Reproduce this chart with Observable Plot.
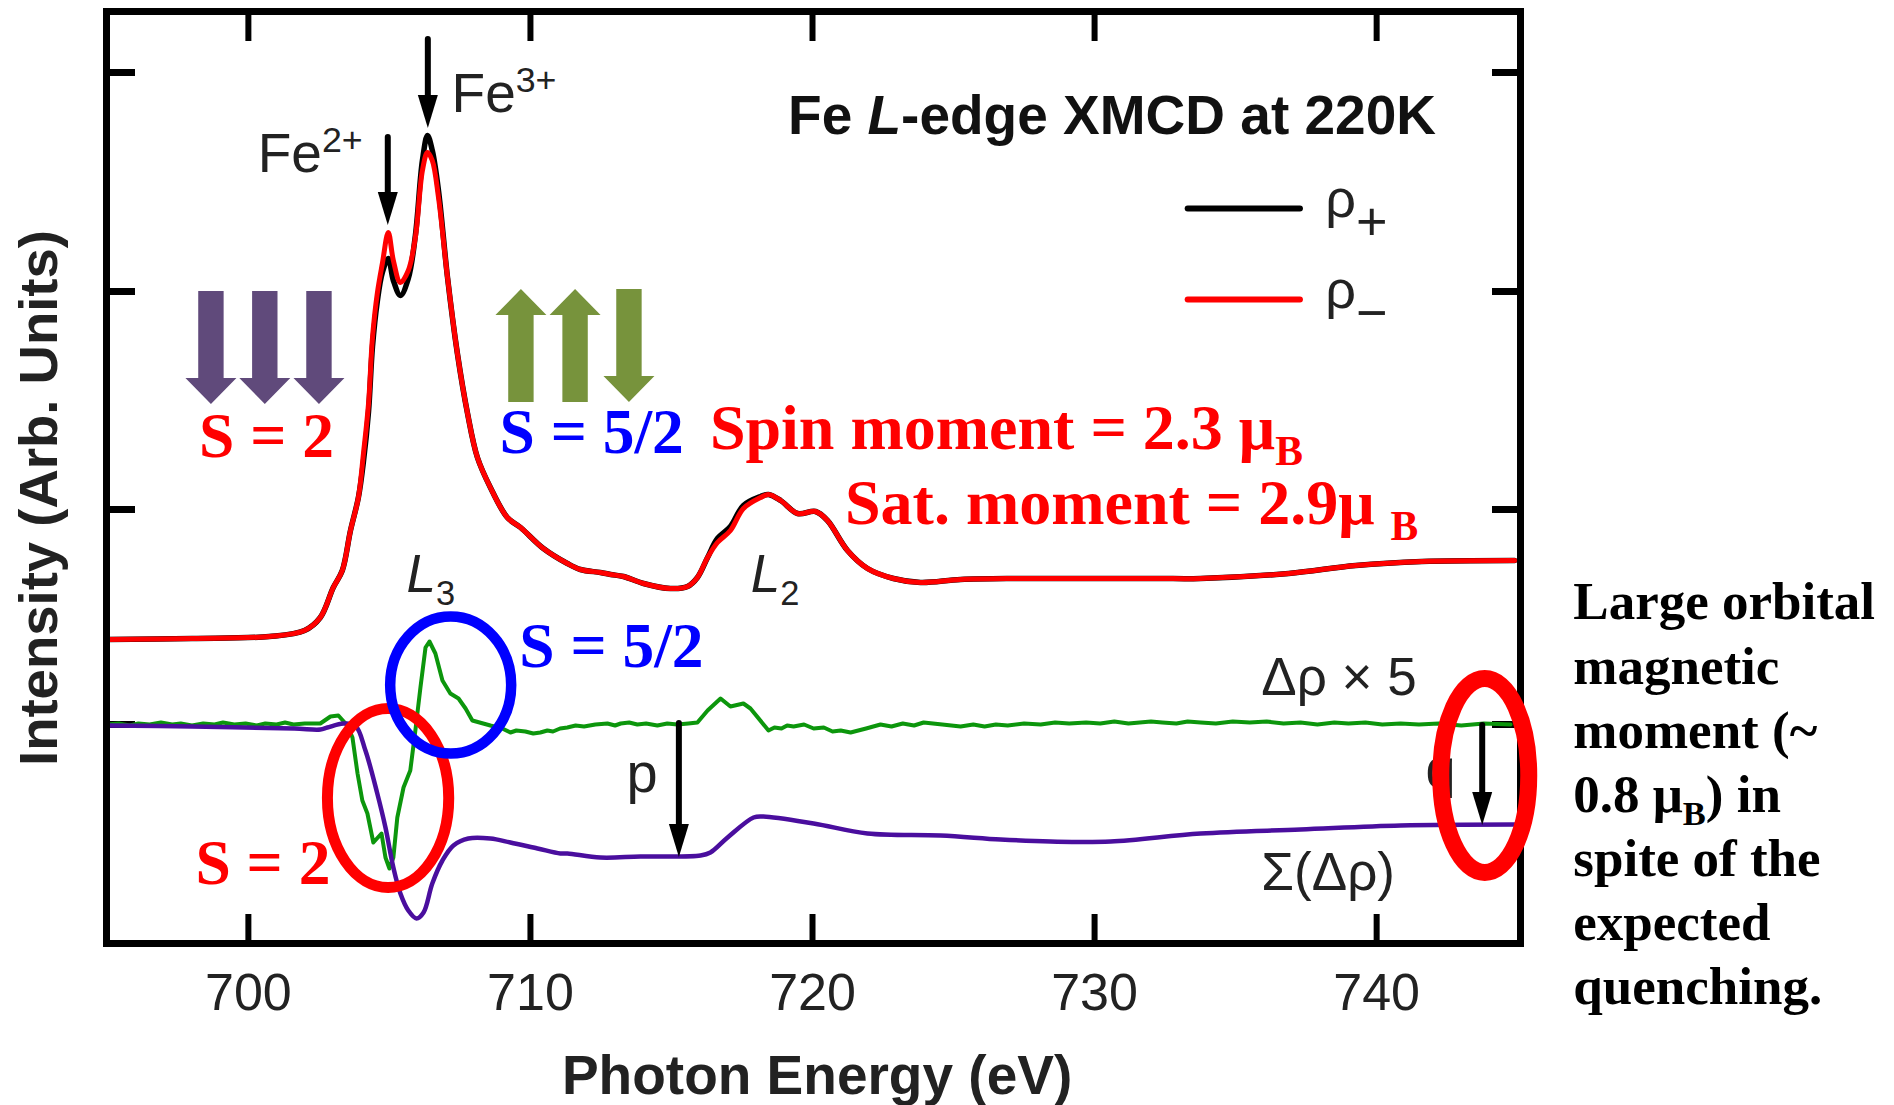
<!DOCTYPE html>
<html><head><meta charset="utf-8">
<style>html,body{margin:0;padding:0;background:#fff}svg{display:block}</style>
<script src="https://cdn.jsdelivr.net/npm/d3@7"></script>
<script src="https://cdn.jsdelivr.net/npm/@observablehq/plot@0.6"></script>
</head><body><div id="chart"></div>
<script>
const xTicks = [700, 710, 720, 730, 740];
const yTicks = [222, 437, 655, 874];

const rhoEnergy = [695,698.01,700.74,701.99,702.55,703.01,703.33,703.62,703.9,704.08,704.26,704.4,704.57,704.75,704.96,705.14,705.39,705.67,705.92,706.17,706.35,706.52,706.74,707.06,707.41,707.77,708.12,708.58,709.18,709.65,710.46,711.31,711.77,712.48,712.84,713.3,714.01,714.96,715.57,715.92,716.28,716.63,717.09,717.55,718.16,718.44,718.87,719.47,720.11,720.53,721.24,721.95,722.87,723.83,725.25,727.27,732.16,733.76,736.88,739.26,741.6,744.89];
const rhoMinus = [307,308,310,316,329,359,376,416,449,493,543,609,653,683,714,686,664,676,709,776,794,786,749,669,593,533,489,459,429,419,398,383,377,374,372,370,363,358,360,369,389,404,416,438,449,452,446,433,435,426,396,378,368,364,367,368,368,368,373,381,385,386];
const rhoPlus  = [307,308,310,316,329,359,376,416,449,485,535,600,645,674,688,666,651,668,711,786,811,796,756,669,593,533,489,459,429,419,398,383,377,374,372,370,363,358,360,369,389,408,420,441,450,452,446,433,435,426,396,378,368,364,367,368,368,368,373,381,385,386];

const deltaEnergy = [695,695.4,695.8,696.1,696.5,696.9,697.3,697.6,698,698.4,698.8,699.1,699.5,699.9,700.3,700.6,701,701.3,701.6,702,702.55,702.91,703.19,703.51,703.69,703.87,704.04,704.22,704.43,704.72,704.86,705,705.14,705.28,705.5,705.74,705.92,706.1,706.28,706.42,706.63,706.88,707.16,707.45,707.7,707.94,708.58,709.0,709.29,709.5,709.82,710.1,710.35,710.6,710.8,711.05,711.31,711.6,711.9,712.3,712.73,713,713.2,713.5,713.79,714.1,714.5,714.85,715.21,715.6,715.92,716.28,716.74,717.09,717.55,717.8,718.44,718.65,718.9,719.1,719.33,719.7,720.04,720.4,720.71,721,721.35,721.9,722.41,722.8,723.2,723.6,723.94,724.6,725.25,725.7,726.1,726.5,726.92,727.5,728.09,728.6,729.1,729.7,730.2,730.7,731.2,731.6,732,732.4,732.9,733.3,733.76,734.3,734.9,735.5,736.1,736.7,737.3,737.9,738.5,739,739.6,740.2,740.85,741.5,742.2,743,743.8,744.75];
const deltaValues = [222,223,221,223,222,224,222,223,221,223,222,224,222,223,221,223,222,224,222,223,223,230,231,221,209,173,146,133,104,113,89,78,89,129,159,176,216,259,299,305,293,266,253,248,238,226,221,218,214,216,215,213,214,216,215,218,219,221,220,222,223,221,223,224,222,223,221,223,222,223,224,236,248,240,243,238,216,219,218,221,220,222,218,219,215,216,214,218,222,220,223,221,224,222,220,222,220,222,221,223,222,224,223,224,223,225,223,224,225,224,223,225,224,223,225,224,225,223,224,222,224,223,224,222,223,222,223,221,223,222];

const sumEnergy = [695,698.01,701.63,702.55,702.8,703.37,703.79,704.15,704.57,704.86,705.14,705.39,705.67,705.96,706.21,706.52,706.88,707.27,707.8,708.58,709.29,710.25,711.06,711.31,712.48,713.9,716.03,716.38,716.99,717.91,718.26,720.04,721.95,724.54,726.67,728.44,730.57,733.76,737.3,740.85,744.89];
const sumValues = [221,220,218,217,219,223,221,196,153,119,79,53,36,28,34,63,86,101,108,108,104,98,93,93,89,90,91,94,109,129,130,123,113,111,107,105,105,113,117,121,122];

const legendEnergy = [733.3, 737.28];
const legendPlus = [738, 738];
const legendMinus = [647, 647];

const spinDownEnergy = [698.69, 700.6, 702.52];
const ferriUpEnergy = [709.68, 711.6];
const ferriDownEnergy = [713.51];
const thinArrows = [[706.38,907,818],[704.96,809,721],[715.28,223,89],[743.76,221,121]];
const ellipses = [[704.97,148,2.15,89.5,"#ff0000",11],[707.19,261,2.145,68.5,"#0000ff",10.5],[743.85,170.5,1.56,97,"#ff0000",17]];

const sans = "'Liberation Sans',Arial,sans-serif", serif = "'Liberation Serif','Times New Roman',serif";
const notes = [
 {x:719.15,y:812,f:sans,s:55,w:"bold",c:"#111",p:[["Fe "],["L","i"],["-edge XMCD at 220K"]]},
 {x:707.22,y:834,f:sans,s:55,c:"#222",p:[["Fe"],["3+","sup"]]},
 {x:700.35,y:774,f:sans,s:55,c:"#222",p:[["Fe"],["2+","sup"]]},
 {x:705.62,y:354,f:sans,s:53,c:"#222",p:[["L","i"],["3","sub"]]},
 {x:717.83,y:354,f:sans,s:53,c:"#222",p:[["L","i"],["2","sub"]]},
 {x:713.42,y:154,f:sans,s:56,c:"#222",p:[["p"]]},
 {x:741.75,y:159,f:sans,s:54,c:"#222",p:[["q"]]},
 {x:735.93,y:251,f:sans,s:53,c:"#222",p:[["Δρ × 5"]]},
 {x:735.93,y:56,f:sans,s:53,c:"#222",p:[["Σ(Δρ)"]]},
 {x:738.2,y:729,f:sans,s:54,c:"#222",p:[["ρ"],["+","low"]]},
 {x:738.2,y:638,f:sans,s:54,c:"#222",p:[["ρ"],["−","low"]]},
 {x:698.27,y:489,f:serif,s:63.5,w:"bold",c:"#ff0000",p:[["S = 2"]]},
 {x:708.92,y:493,f:serif,s:63.5,w:"bold",c:"#0000ff",p:[["S = 5/2"]]},
 {x:709.62,y:279,f:serif,s:63.5,w:"bold",c:"#0000ff",p:[["S = 5/2"]]},
 {x:698.14,y:62,f:serif,s:63.5,w:"bold",c:"#ff0000",p:[["S = 2"]]},
 {x:716.38,y:497,f:serif,s:64,w:"bold",c:"#ff0000",p:[["Spin moment = 2.3 μ"],["B","sub"]]},
 {x:721.17,y:422,f:serif,s:64,w:"bold",c:"#ff0000",p:[["Sat. moment = 2.9μ "],["B","sub"]]},
 {x:746.99,y:327,f:serif,s:53,w:"bold",c:"#000",p:[["Large orbital"]]},
 {x:746.99,y:262,f:serif,s:53,w:"bold",c:"#000",p:[["magnetic"]]},
 {x:746.99,y:198,f:serif,s:53,w:"bold",c:"#000",p:[["moment (~"]]},
 {x:746.99,y:134,f:serif,s:53,w:"bold",c:"#000",p:[["0.8 μ"],["B","sub"],[") in"]]},
 {x:746.99,y:70,f:serif,s:53,w:"bold",c:"#000",p:[["spite of the"]]},
 {x:746.99,y:6,f:serif,s:53,w:"bold",c:"#000",p:[["expected"]]},
 {x:746.99,y:-58,f:serif,s:53,w:"bold",c:"#000",p:[["quenching."]]},
 {x:720.18,y:-148,f:sans,s:55,w:"bold",c:"#222",a:"middle",p:[["Photon Energy (eV)"]]},
 {x:693.22,y:448,f:sans,s:54.5,w:"bold",c:"#222",a:"middle",r:-90,p:[["Intensity (Arb. Units)"]]}
];

const series = (xs, ys) => xs.map((x, i) => ({x, y: ys[i]}));

function blockArrows(list, top, bottom, up, color) {
  return (index, {x, y}) => {
    const g = d3.create("svg:g").attr("fill", color);
    for (const e of list) {
      const c = x(e), t = y(top), b = y(bottom), hs = 12.7, hh = 25.5, hl = 26;
      const pts = up
        ? [[c,t],[c+hh,t+hl],[c+hs,t+hl],[c+hs,b],[c-hs,b],[c-hs,t+hl],[c-hh,t+hl]]
        : [[c-hs,t],[c+hs,t],[c+hs,b-hl],[c+hh,b-hl],[c,b],[c-hh,b-hl],[c-hs,b-hl]];
      g.append("polygon").attr("points", pts.join(" "));
    }
    return g.node();
  };
}
function arrowMark(index, {x, y}) {
  const g = d3.create("svg:g");
  for (const [e, from, to] of thinArrows) {
    const c = x(e), a = y(from), b = y(to);
    g.append("line").attr("x1", c).attr("x2", c).attr("y1", a).attr("y2", b - 26)
      .attr("stroke", "#000").attr("stroke-width", 6).attr("stroke-linecap", "round");
    g.append("polygon").attr("points", [[c-10,b-33],[c+10,b-33],[c,b]].join(" ")).attr("fill", "#000");
  }
  return g.node();
}
function ellipseMark(index, {x, y}) {
  const g = d3.create("svg:g").attr("fill", "none");
  for (const [e, v, rx, ry, color, sw] of ellipses) {
    g.append("ellipse").attr("cx", x(e)).attr("cy", y(v))
      .attr("rx", Math.abs(x(e + rx) - x(e))).attr("ry", Math.abs(y(v + ry) - y(v)))
      .attr("stroke", color).attr("stroke-width", sw);
  }
  return g.node();
}
function noteMark(list) {
  return (index, {x, y}) => {
    const g = d3.create("svg:g");
    for (const n of list) {
      const px = x(n.x), py = y(n.y);
      const t = g.append("text").attr("font-family", n.f).attr("font-size", n.s)
        .attr("font-weight", n.w || "normal").attr("fill", n.c)
        .attr("text-anchor", n.a || "start")
        .attr("transform", `translate(${px},${py})` + (n.r ? ` rotate(${n.r})` : ""));
      let shift = 0;
      for (const [s, kind] of n.p) {
        const ts = t.append("tspan").text(s);
        let target = 0;
        if (kind === "i") ts.attr("font-style", "italic");
        if (kind === "sup") { ts.attr("font-size", n.s * 0.65); target = -n.s * 0.36; }
        if (kind === "sub") { ts.attr("font-size", n.s * 0.65); target = n.s * 0.25; }
        if (kind === "low") { target = n.s * 0.43; }
        ts.attr("dy", target - shift);
        shift = target;
      }
    }
    return g.node();
  };
}

const chart = Plot.plot({
  width: 1894, height: 1105,
  marginLeft: 106, marginRight: 374, marginTop: 11, marginBottom: 162,
  style: {background: "#fff", fontFamily: sans, overflow: "visible"},
  x: {domain: [694.97, 745.1], label: null},
  y: {domain: [3, 935], label: null},
  marks: [
    Plot.axisX({ticks: xTicks, anchor: "bottom", tickSize: 0, tickPadding: 30, fontSize: 52, fill: "#222", label: null, tickFormat: d => String(d)}),
    Plot.axisX({ticks: xTicks, anchor: "bottom", tickSize: -29, strokeWidth: 6, stroke: "#000", fill: "none", label: null}),
    Plot.axisX({ticks: xTicks, anchor: "top", tickSize: -29, strokeWidth: 6, stroke: "#000", fill: "none", label: null}),
    Plot.axisY({ticks: yTicks, anchor: "left", tickSize: -29, strokeWidth: 7, stroke: "#000", fill: "none", label: null}),
    Plot.axisY({ticks: yTicks, anchor: "right", tickSize: -29, strokeWidth: 7, stroke: "#000", fill: "none", label: null}),
    noteMark(notes.filter(n => n.p[0][0] === "q")),
    Plot.line(series(rhoEnergy, rhoPlus), {x: "x", y: "y", stroke: "#000", strokeWidth: 5.5, curve: "catmull-rom"}),
    Plot.line(series(rhoEnergy, rhoMinus), {x: "x", y: "y", stroke: "#ff0000", strokeWidth: 5, curve: "catmull-rom"}),
    Plot.line(series(deltaEnergy, deltaValues), {x: "x", y: "y", stroke: "#0c960c", strokeWidth: 4}),
    Plot.line(series(sumEnergy, sumValues), {x: "x", y: "y", stroke: "#4a0e9e", strokeWidth: 4.5, curve: "catmull-rom"}),
    Plot.line(series(legendEnergy, legendPlus), {x: "x", y: "y", stroke: "#000", strokeWidth: 6, strokeLinecap: "round"}),
    Plot.line(series(legendEnergy, legendMinus), {x: "x", y: "y", stroke: "#ff0000", strokeWidth: 6, strokeLinecap: "round"}),
    Plot.frame({stroke: "#000", strokeWidth: 7}),
    blockArrows(spinDownEnergy, 655, 542, false, "#604a7b"),
    blockArrows(ferriUpEnergy, 657, 544, true, "#77933c"),
    blockArrows(ferriDownEnergy, 657, 544, false, "#77933c"),
    arrowMark,
    ellipseMark,
    noteMark(notes.filter(n => n.p[0][0] !== "q"))
  ]
});
document.getElementById("chart").append(chart);
</script>
</body></html>
